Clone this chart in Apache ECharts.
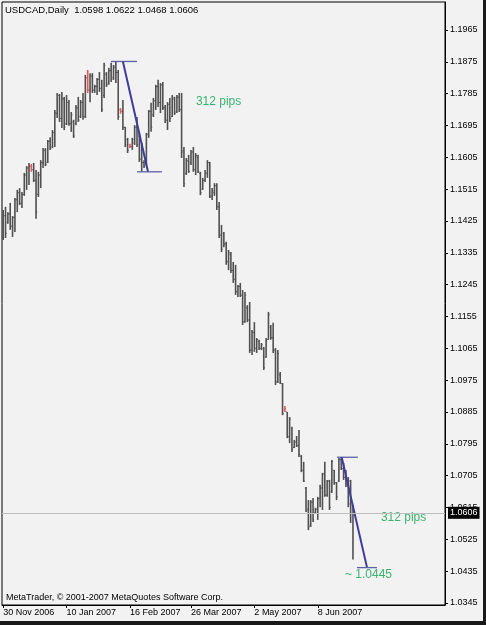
<!DOCTYPE html>
<html><head><meta charset="utf-8">
<script src="https://cdn.jsdelivr.net/npm/echarts@6/dist/echarts.min.js"></script>
<style>html,body{margin:0;padding:0;background:#f2f2f2}#c{width:486px;height:625px}</style>
</head><body><div id="c"></div>
<script>
// ---- data (USDCAD daily) ----
const open = [
1.1380,1.1440,1.1420,1.1445,1.1410,1.1435,1.1485,1.1505,1.1475,1.1500,
1.1555,1.1575,1.1580,1.1570,1.1540,1.1500,1.1555,1.1590,1.1625,1.1590,
1.1650,1.1635,1.1675,1.1730,1.1780,1.1715,1.1770,1.1700,1.1760,1.1700,
1.1705,1.1700,1.1745,1.1720,1.1760,1.1720,1.1830,1.1795,1.1835,1.1795,
1.1805,1.1825,1.1800,1.1780,1.1840,1.1815,1.1850,1.1830,1.1860,1.1845,
1.1740,1.1735,1.1690,1.1655,1.1640,1.1635,1.1645,1.1690,1.1665,1.1600,
1.1590,1.1585,1.1670,1.1735,1.1725,1.1765,1.1805,1.1760,1.1810,1.1745,
1.1710,1.1755,1.1720,1.1770,1.1735,1.1775,1.1740,1.1625,1.1560,1.1595,
1.1590,1.1620,1.1570,1.1605,1.1560,1.1515,1.1540,1.1560,1.1590,1.1495,
1.1505,1.1525,1.1465,1.1385,1.1390,1.1360,1.1310,1.1330,1.1285,1.1260,
1.1225,1.1240,1.1215,1.1140,1.1180,1.1145,1.1060,1.1110,1.1065,1.1085,
1.1065,1.1065,1.1040,1.1090,1.1125,1.1095,1.1060,1.0970,1.0990,1.0965,
1.0890,1.0885,1.0815,1.0840,1.0785,1.0800,1.0790,1.0760,1.0720,1.0670,
1.0610,1.0565,1.0630,1.0600,1.0610,1.0640,1.0670,1.0710,1.0650,1.0690,
1.0660,1.0720,1.0685,1.0690,1.0750,1.0725,1.0700,1.0680,1.0690,1.0598];
const high = [
1.1456,1.1465,1.1450,1.1476,1.1439,1.1490,1.1513,1.1518,1.1507,1.1561,
1.1580,1.1589,1.1586,1.1589,1.1569,1.1564,1.1597,1.1631,1.1631,1.1654,
1.1662,1.1682,1.1739,1.1787,1.1784,1.1790,1.1776,1.1781,1.1767,1.1733,
1.1711,1.1753,1.1776,1.1767,1.1787,1.1838,1.1852,1.1843,1.1843,1.1810,
1.1829,1.1846,1.1824,1.1872,1.1846,1.1858,1.1872,1.1866,1.1876,1.1852,
1.1744,1.1767,1.1691,1.1660,1.1643,1.1660,1.1696,1.1719,1.1674,1.1646,
1.1597,1.1674,1.1739,1.1759,1.1773,1.1810,1.1824,1.1815,1.1818,1.1753,
1.1761,1.1773,1.1781,1.1776,1.1781,1.1787,1.1787,1.1634,1.1603,1.1612,
1.1626,1.1634,1.1617,1.1612,1.1564,1.1547,1.1569,1.1597,1.1592,1.1518,
1.1532,1.1532,1.1479,1.1414,1.1394,1.1366,1.1343,1.1337,1.1309,1.1301,
1.1244,1.1250,1.1230,1.1224,1.1187,1.1196,1.1117,1.1139,1.1094,1.1089,
1.1080,1.1069,1.1094,1.1168,1.1131,1.1137,1.1066,1.1060,1.0998,1.0967,
1.0902,1.0885,1.0871,1.0843,1.0806,1.0817,1.0834,1.0763,1.0744,1.0673,
1.0636,1.0636,1.0642,1.0614,1.0645,1.0679,1.0713,1.0744,1.0693,1.0693,
1.0749,1.0721,1.0687,1.0755,1.0757,1.0741,1.0721,1.0701,1.0693,1.0622];
const low = [
1.1371,1.1377,1.1417,1.1400,1.1380,1.1394,1.1450,1.1470,1.1462,1.1496,
1.1513,1.1527,1.1564,1.1535,1.1431,1.1493,1.1518,1.1575,1.1580,1.1589,
1.1626,1.1631,1.1634,1.1716,1.1705,1.1688,1.1682,1.1696,1.1694,1.1677,
1.1660,1.1696,1.1705,1.1716,1.1711,1.1716,1.1787,1.1761,1.1787,1.1787,
1.1781,1.1790,1.1733,1.1773,1.1804,1.1810,1.1818,1.1824,1.1815,1.1711,
1.1728,1.1682,1.1634,1.1617,1.1631,1.1626,1.1640,1.1634,1.1592,1.1564,
1.1575,1.1583,1.1660,1.1677,1.1719,1.1739,1.1747,1.1730,1.1739,1.1702,
1.1682,1.1705,1.1719,1.1725,1.1730,1.1733,1.1603,1.1521,1.1555,1.1561,
1.1583,1.1564,1.1555,1.1561,1.1498,1.1513,1.1535,1.1547,1.1490,1.1484,
1.1496,1.1456,1.1377,1.1337,1.1351,1.1301,1.1286,1.1278,1.1250,1.1216,
1.1210,1.1210,1.1131,1.1137,1.1139,1.1052,1.1046,1.1055,1.1052,1.1060,
1.1060,1.1004,1.1038,1.1089,1.1089,1.1052,1.0961,1.0967,1.0964,1.0876,
1.0885,1.0811,1.0797,1.0772,1.0783,1.0786,1.0758,1.0715,1.0687,1.0602,
1.0551,1.0560,1.0574,1.0597,1.0580,1.0616,1.0608,1.0645,1.0645,1.0608,
1.0656,1.0679,1.0636,1.0687,1.0721,1.0693,1.0673,1.0616,1.0571,1.0468];
const close = [
1.1440,1.1390,1.1445,1.1410,1.1435,1.1485,1.1505,1.1475,1.1500,1.1555,
1.1575,1.1580,1.1570,1.1540,1.1450,1.1555,1.1590,1.1625,1.1585,1.1650,
1.1630,1.1675,1.1730,1.1780,1.1715,1.1770,1.1690,1.1760,1.1700,1.1725,
1.1665,1.1745,1.1710,1.1760,1.1720,1.1830,1.1795,1.1835,1.1795,1.1805,
1.1825,1.1800,1.1740,1.1865,1.1810,1.1850,1.1825,1.1860,1.1845,1.1720,
1.1735,1.1690,1.1640,1.1625,1.1635,1.1655,1.1690,1.1640,1.1600,1.1590,
1.1580,1.1670,1.1735,1.1690,1.1765,1.1805,1.1760,1.1810,1.1745,1.1710,
1.1755,1.1715,1.1775,1.1730,1.1775,1.1740,1.1620,1.1530,1.1595,1.1565,
1.1620,1.1570,1.1610,1.1565,1.1505,1.1540,1.1560,1.1590,1.1495,1.1510,
1.1525,1.1465,1.1385,1.1345,1.1360,1.1310,1.1335,1.1285,1.1260,1.1225,
1.1240,1.1215,1.1140,1.1215,1.1145,1.1060,1.1110,1.1065,1.1090,1.1065,
1.1075,1.1010,1.1085,1.1160,1.1095,1.1060,1.0970,1.1050,1.0970,1.0880,
1.0895,1.0815,1.0865,1.0780,1.0800,1.0790,1.0765,1.0720,1.0690,1.0605,
1.0560,1.0630,1.0580,1.0610,1.0640,1.0670,1.0710,1.0650,1.0690,1.0615,
1.0745,1.0685,1.0645,1.0750,1.0725,1.0700,1.0680,1.0625,1.0598,1.0606];
const redBars = [12, 36, 50, 54, 120];
const yTickValues = [1.0345,1.0435,1.0525,1.0615,1.0705,1.0795,1.0885,1.0975,1.1065,1.1155,
                     1.1245,1.1335,1.1425,1.1515,1.1605,1.1695,1.1785,1.1875,1.1965];
const xLabelIndex = [0, 27, 54, 80, 107, 134];
const xLabelText = ['30 Nov 2006','10 Jan 2007','16 Feb 2007','26 Mar 2007','2 May 2007','8 Jun 2007'];
const currentPrice = 1.0606;
// drawn objects: [x1, price1, x2, price2, kind]
const patternLines = [
  [45.9,1.1876,57.0,1.1876,'h'],[51.0,1.1876,61.7,1.1564,'d'],[57.0,1.1564,67.6,1.1564,'h'],
  [142.2,1.0757,151.1,1.0757,'h'],[144.2,1.0757,155.0,1.0445,'d'],[150.7,1.0445,159.2,1.0445,'h']];
const annotations = [[82.1,1.1762,'312 pips'],[160.9,1.0585,'312 pips'],[145.6,1.0424,'~ 1.0445']];
const titleText = 'USDCAD,Daily  1.0598 1.0622 1.0468 1.0606';
const copyrightText = 'MetaTrader, \u00a9 2001-2007 MetaQuotes Software Corp.';

// ---- chart ----
const FONT = 'Liberation Sans, Arial, sans-serif';
const ohlc = open.map((o, i) => [i, o, high[i], low[i], close[i]]);
const chart = echarts.init(document.getElementById('c'), null, {renderer: 'canvas'});
chart.setOption({
  animation: false,
  backgroundColor: '#f2f2f2',
  title: {text: titleText, left: 5, top: 5, padding: 0,
          textStyle: {fontFamily: FONT, fontSize: 9.5, fontWeight: 'normal', color: '#000'}},
  grid: {left: 2, right: 41, top: 2, bottom: 20, show: true, borderColor: '#000', borderWidth: 1,
         backgroundColor: 'transparent'},
  xAxis: {
    type: 'value', min: -0.5, max: 188.2, position: 'bottom',
    axisLine: {show: true, onZero: false, lineStyle: {color: '#000', width: 1}},
    axisTick: {show: true, length: 3, customValues: xLabelIndex, lineStyle: {color: '#000'}},
    axisLabel: {show: true, customValues: xLabelIndex, align: 'left', margin: 3,
      fontFamily: FONT, fontSize: 9, color: '#000',
      formatter: v => xLabelText[xLabelIndex.indexOf(Math.round(v))] || ''},
    splitLine: {show: false}
  },
  yAxis: {
    type: 'value', position: 'right', min: 1.03393, max: 1.20441, scale: true,
    axisLine: {show: true, onZero: false, lineStyle: {color: '#000', width: 1}},
    axisTick: {show: true, inside: false, length: 3, customValues: yTickValues, lineStyle: {color: '#000'}},
    axisLabel: {show: true, customValues: yTickValues, margin: 5, fontFamily: FONT, fontSize: 9,
      color: '#000', formatter: v => v.toFixed(4)},
    splitLine: {show: false}
  },
  series: [
    {
      type: 'custom', name: 'USDCAD', data: ohlc, encode: {x: 0, y: [1, 2, 3, 4]},
      renderItem: (params, api) => {
        const i = api.value(0);
        const pO = api.coord([i, api.value(1)]);
        const pH = api.coord([i, api.value(2)]);
        const pL = api.coord([i, api.value(3)]);
        const pC = api.coord([i, api.value(4)]);
        const x = pH[0];
        const col = redBars.indexOf(i) >= 0 ? '#ee5555' : '#505050';
        const st = {stroke: col, lineWidth: 1.6};
        return {type: 'group', children: [
          {type: 'line', shape: {x1: x, y1: pH[1], x2: x, y2: pL[1]}, style: st},
          {type: 'line', shape: {x1: x - 1.2, y1: pO[1], x2: x, y2: pO[1]}, style: {stroke: col, lineWidth: 1}},
          {type: 'line', shape: {x1: x, y1: pC[1], x2: x + 1.2, y2: pC[1]}, style: {stroke: col, lineWidth: 1}}
        ]};
      },
      markLine: {
        silent: true, symbol: ['none', 'none'], z: 10,
        lineStyle: {color: '#bdbdbd', width: 1, type: 'solid'},
        label: {show: true, position: 'end', distance: 3, formatter: () => currentPrice.toFixed(4),
          color: '#fff', backgroundColor: '#000', padding: [2, 2, 1, 2], fontFamily: FONT, fontSize: 9},
        data: [{yAxis: currentPrice}]
      },
      z: 3
    },
    {
      type: 'custom', name: 'objects', data: patternLines, silent: true, z: 4,
      renderItem: (params, api) => {
        const s = patternLines[params.dataIndex];
        const a = api.coord([s[0], s[1]]);
        const b = api.coord([s[2], s[3]]);
        const diag = s[4] === 'd';
        return {type: 'line', shape: {x1: a[0], y1: a[1], x2: b[0], y2: b[1]},
          style: {stroke: diag ? '#3d3d9e' : '#5f5fa8', lineWidth: diag ? 2 : 1.3}};
      }
    },
    {
      type: 'custom', name: 'texts', data: annotations.map(a => [a[0], a[1]]), silent: true, z: 5,
      renderItem: (params, api) => {
        const a = annotations[params.dataIndex];
        const p = api.coord([a[0], a[1]]);
        return {type: 'text', x: p[0], y: p[1],
          style: {text: a[2], fill: '#3cb371', fontFamily: FONT, fontSize: 12,
                  align: 'left', verticalAlign: 'middle'}};
      }
    }
  ],
  graphic: [
    {type: 'text', left: 6, top: 593, style: {text: copyrightText, fontFamily: FONT, fontSize: 9, fill: '#000'}},
    {type: 'rect', shape: {x: 483, y: 0, width: 3, height: 625}, style: {fill: '#1a1a1a'}},
    {type: 'rect', shape: {x: 0, y: 621, width: 486, height: 4}, style: {fill: '#1a1a1a'}}
  ]
});
</script></body></html>
